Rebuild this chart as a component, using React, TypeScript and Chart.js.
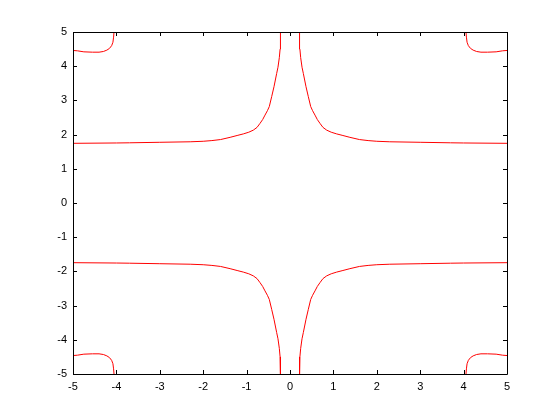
import React, { useEffect, useRef } from "react";
import { Chart, registerables } from "chart.js";

Chart.register(...registerables);

// Axis range and ticks
const axisMin = -5;
const axisMax = 5;
const tickValues = [-5, -4, -3, -2, -1, 0, 1, 2, 3, 4, 5];

// Central upper-left branch
const upperLeftX = [-5, -4, -3.7, -3, -2.3, -2, -1.8, -1.6, -1.38, -1.2, -1.076, -0.95, -0.846, -0.76, -0.69, -0.63, -0.576, -0.52, -0.477, -0.422, -0.369, -0.307, -0.277, -0.246, -0.228, -0.22];
const upperLeftY = [1.745, 1.755, 1.76, 1.775, 1.79, 1.805, 1.825, 1.855, 1.92, 1.98, 2.02, 2.07, 2.13, 2.21, 2.33, 2.44, 2.57, 2.7, 2.82, 3.11, 3.4, 3.79, 3.97, 4.25, 4.5, 5.0];
// Central upper-right branch
const upperRightX = [5, 4, 3.7, 3, 2.3, 2, 1.8, 1.6, 1.38, 1.2, 1.076, 0.95, 0.846, 0.76, 0.69, 0.63, 0.576, 0.52, 0.477, 0.422, 0.369, 0.307, 0.277, 0.246, 0.228, 0.22];
const upperRightY = [1.745, 1.755, 1.76, 1.775, 1.79, 1.805, 1.825, 1.855, 1.92, 1.98, 2.02, 2.07, 2.13, 2.21, 2.33, 2.44, 2.57, 2.7, 2.82, 3.11, 3.4, 3.79, 3.97, 4.25, 4.5, 5.0];
// Central lower-left branch
const lowerLeftX = [-5, -4, -3.7, -3, -2.3, -2, -1.8, -1.6, -1.38, -1.2, -1.076, -0.95, -0.846, -0.76, -0.69, -0.63, -0.576, -0.52, -0.477, -0.422, -0.369, -0.307, -0.277, -0.246, -0.228, -0.22];
const lowerLeftY = [-1.745, -1.755, -1.76, -1.775, -1.79, -1.805, -1.825, -1.855, -1.92, -1.98, -2.02, -2.07, -2.13, -2.21, -2.33, -2.44, -2.57, -2.7, -2.82, -3.11, -3.4, -3.79, -3.97, -4.25, -4.5, -5.0];
// Central lower-right branch
const lowerRightX = [5, 4, 3.7, 3, 2.3, 2, 1.8, 1.6, 1.38, 1.2, 1.076, 0.95, 0.846, 0.76, 0.69, 0.63, 0.576, 0.52, 0.477, 0.422, 0.369, 0.307, 0.277, 0.246, 0.228, 0.22];
const lowerRightY = [-1.745, -1.755, -1.76, -1.775, -1.79, -1.805, -1.825, -1.855, -1.92, -1.98, -2.02, -2.07, -2.13, -2.21, -2.33, -2.44, -2.57, -2.7, -2.82, -3.11, -3.4, -3.79, -3.97, -4.25, -4.5, -5.0];

// Corner arcs
const cornerTLX = [-5, -4.9, -4.75, -4.55, -4.4, -4.3, -4.22, -4.16, -4.11, -4.08, -4.065, -4.055];
const cornerTLY = [4.46, 4.45, 4.42, 4.41, 4.41, 4.43, 4.47, 4.52, 4.6, 4.7, 4.85, 5.0];
const cornerTRX = [5, 4.9, 4.75, 4.55, 4.4, 4.3, 4.22, 4.16, 4.11, 4.08, 4.065, 4.055];
const cornerTRY = [4.46, 4.45, 4.42, 4.41, 4.41, 4.43, 4.47, 4.52, 4.6, 4.7, 4.85, 5.0];
const cornerBLX = [-5, -4.9, -4.75, -4.55, -4.4, -4.3, -4.22, -4.16, -4.11, -4.08, -4.065, -4.055];
const cornerBLY = [-4.46, -4.45, -4.42, -4.41, -4.41, -4.43, -4.47, -4.52, -4.6, -4.7, -4.85, -5.0];
const cornerBRX = [5, 4.9, 4.75, 4.55, 4.4, 4.3, 4.22, 4.16, 4.11, 4.08, 4.065, 4.055];
const cornerBRY = [-4.46, -4.45, -4.42, -4.41, -4.41, -4.43, -4.47, -4.52, -4.6, -4.7, -4.85, -5.0];

const curves: [number[], number[]][] = [
  [upperLeftX, upperLeftY],
  [upperRightX, upperRightY],
  [lowerLeftX, lowerLeftY],
  [lowerRightX, lowerRightY],
  [cornerTLX, cornerTLY],
  [cornerTRX, cornerTRY],
  [cornerBLX, cornerBLY],
  [cornerBRX, cornerBRY],
];

const FONT = { family: "'Liberation Sans', Arial, Helvetica, sans-serif", size: 11 };

const boxPlugin = {
  id: "matlabBox",
  afterDraw(chart: any) {
    const { ctx, chartArea } = chart;
    const { left, right, top, bottom } = chartArea;
    const xs = chart.scales.x;
    const ys = chart.scales.y;
    const tl = 4;
    ctx.save();
    ctx.strokeStyle = "#000";
    ctx.lineWidth = 1;
    ctx.beginPath();
    ctx.rect(Math.round(left) + 0.5, Math.round(top) + 0.5, Math.round(right - left), Math.round(bottom - top));
    ctx.stroke();
    ctx.beginPath();
    for (const v of tickValues) {
      const px = Math.round(xs.getPixelForValue(v)) + 0.5;
      ctx.moveTo(px, bottom);
      ctx.lineTo(px, bottom - tl);
      ctx.moveTo(px, top);
      ctx.lineTo(px, top + tl);
      const py = Math.round(ys.getPixelForValue(v)) + 0.5;
      ctx.moveTo(left, py);
      ctx.lineTo(left + tl, py);
      ctx.moveTo(right, py);
      ctx.lineTo(right - tl, py);
    }
    ctx.stroke();
    ctx.restore();
  },
};

export default function App() {
  const ref = useRef<HTMLCanvasElement | null>(null);
  useEffect(() => {
    if (!ref.current) return;
    const chart = new Chart(ref.current, {
      type: "scatter",
      data: {
        datasets: curves.map(([xs, ys]) => ({
          data: xs.map((x, i) => ({ x, y: ys[i] })),
          showLine: true,
          borderColor: "#ff0000",
          backgroundColor: "#ff0000",
          borderWidth: 1,
          pointRadius: 0,
          tension: 0,
        })),
      },
      options: {
        responsive: false,
        animation: false,
        devicePixelRatio: 1,
        layout: { padding: { top: 32, right: 53, left: 0, bottom: 0 } },
        plugins: { legend: { display: false }, tooltip: { enabled: false } },
        scales: {
          x: {
            type: "linear",
            min: axisMin,
            max: axisMax,
            afterBuildTicks: (s: any) => {
              s.ticks = tickValues.map((v) => ({ value: v }));
            },
            afterFit: (s: any) => {
              s.height = 46;
            },
            grid: { display: false, drawTicks: false },
            border: { display: false },
            ticks: { color: "#000", font: FONT, padding: 6, maxRotation: 0, autoSkip: false },
          },
          y: {
            type: "linear",
            min: axisMin,
            max: axisMax,
            afterBuildTicks: (s: any) => {
              s.ticks = tickValues.map((v) => ({ value: v }));
            },
            afterFit: (s: any) => {
              s.width = 73;
            },
            grid: { display: false, drawTicks: false },
            border: { display: false },
            ticks: { color: "#000", font: FONT, padding: 6, autoSkip: false },
          },
        },
      },
      plugins: [boxPlugin],
    });
    return () => chart.destroy();
  }, []);
  return (
    <div style={{ position: "absolute", left: 0, top: 0, width: 560, height: 420, background: "#fff" }}>
      <canvas ref={ref} width={560} height={420} />
    </div>
  );
}
